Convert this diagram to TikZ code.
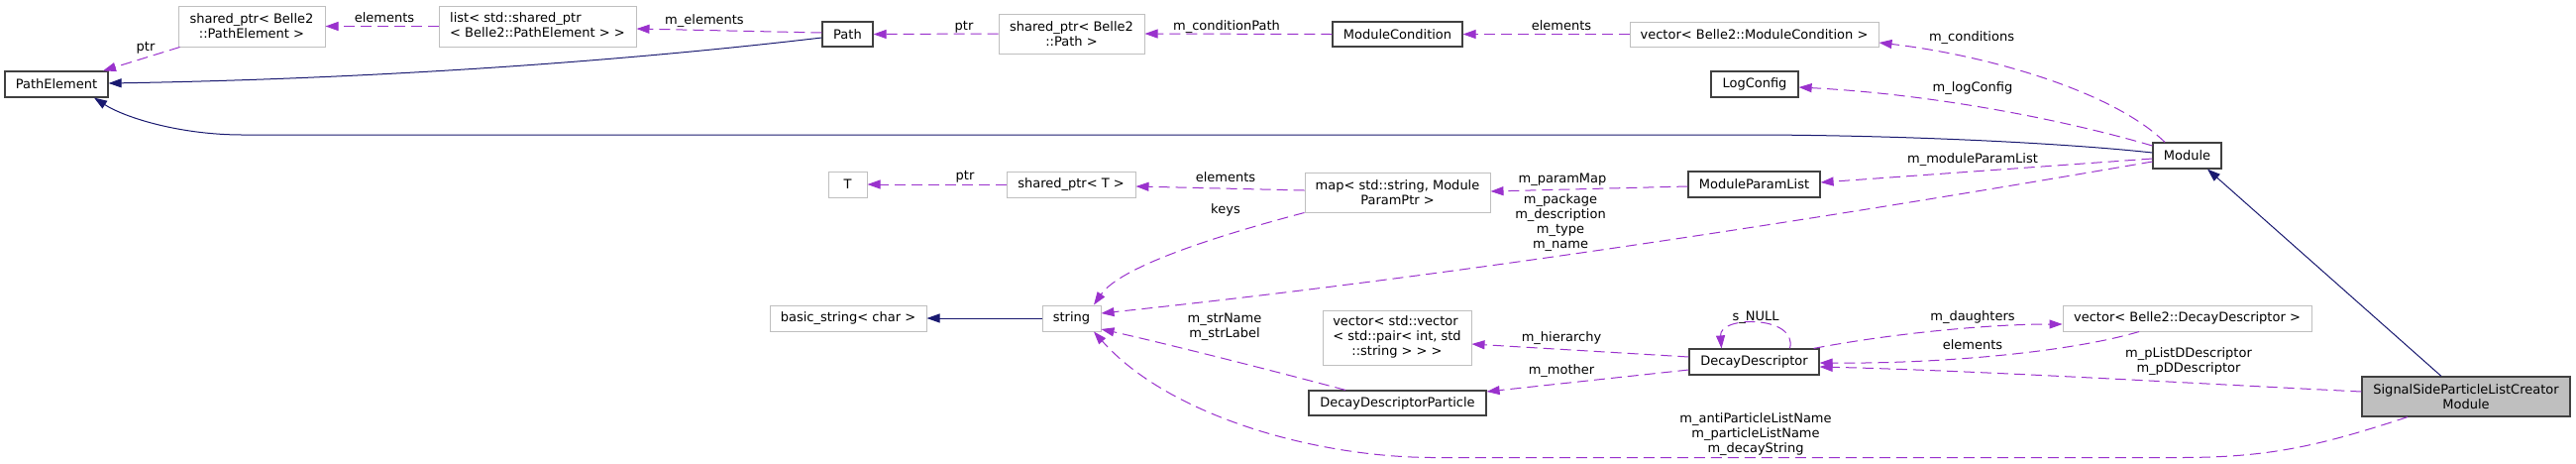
\documentclass[tikz,border=0pt]{standalone}
\usepackage{fontspec}
\setmainfont{DejaVu Sans}
\usetikzlibrary{arrows.meta}
\definecolor{usecol}{HTML}{9A32CD}
\definecolor{inhcol}{HTML}{191970}
\definecolor{boxdark}{HTML}{404040}
\definecolor{boxlight}{HTML}{BFBFBF}
\tikzset{
  every node/.style={font=\fontsize{13pt}{15pt}\selectfont},
  cls/.style={draw=boxdark, line width=1.2pt, inner sep=0pt, fill=white, align=center},
  ext/.style={draw=boxlight, line width=1pt, inner sep=0pt, fill=white, align=center},
  me/.style={draw=boxdark, line width=1.2pt, inner sep=0pt, fill=boxlight, align=center},
  lbl/.style={inner sep=0pt, align=center},
  uses/.style={draw=usecol, line width=1pt, dash pattern=on 11pt off 6pt, -{Triangle[length=13pt,width=9pt]}},
  inh/.style={draw=inhcol, line width=1pt, -{Triangle[length=13pt,width=9pt]}}
}
\begin{document}
\begin{tikzpicture}[x=1pt,y=-1pt]
\fill[white] (0,0) rectangle (2600,467);
\useasboundingbox (0,0) rectangle (2600,467);

% nodes
\node[cls, minimum width=104pt, minimum height=26pt] (PathElement) at (57,85) {PathElement};
\node[ext, minimum width=148pt, minimum height=41pt] (spPE) at (254,26.5) {shared\_ptr< Belle2\\::PathElement >};
\node[ext, minimum width=199pt, minimum height=41pt] (listPE) at (542.5,26.5) {\begin{tabular}{@{}l@{}}list< std::shared\_ptr\\\multicolumn{1}{@{}c@{}}{< Belle2::PathElement > >}\end{tabular}};
\node[cls, minimum width=51pt, minimum height=25pt] (Path) at (855.5,34.5) {Path};
\node[ext, minimum width=147pt, minimum height=40pt] (spPath) at (1081.5,34) {shared\_ptr< Belle2\\::Path >};
\node[cls, minimum width=131pt, minimum height=25pt] (ModuleCondition) at (1410.5,34.5) {ModuleCondition};
\node[ext, minimum width=251pt, minimum height=25pt] (vecMC) at (1770.5,34.5) {vector< Belle2::ModuleCondition >};
\node[cls, minimum width=88pt, minimum height=26pt] (LogConfig) at (1771,85) {LogConfig};
\node[cls, minimum width=69pt, minimum height=26pt] (Module) at (2207.5,157) {Module};
\node[cls, minimum width=133pt, minimum height=26pt] (ModuleParamList) at (1770.5,186) {ModuleParamList};
\node[ext, minimum width=187pt, minimum height=40pt] (map) at (1410.5,194) {map< std::string, Module\\ParamPtr >};
\node[ext, minimum width=130pt, minimum height=26pt] (spT) at (1081,186) {shared\_ptr< T >};
\node[ext, minimum width=39pt, minimum height=26pt] (T) at (855.5,186) {T};
\node[ext, minimum width=158pt, minimum height=26pt] (basicstr) at (856,321) {basic\_string< char >};
\node[ext, minimum width=59pt, minimum height=26pt] (string) at (1081.5,321) {string};
\node[ext, minimum width=150pt, minimum height=55pt] (vecvec) at (1410,340.5) {\begin{tabular}{@{}l@{}}vector< std::vector\\< std::pair< int, std\\\multicolumn{1}{@{}c@{}}{::string > > >}\end{tabular}};
\node[cls, minimum width=131pt, minimum height=26pt] (DD) at (1770.5,365) {DecayDescriptor};
\node[cls, minimum width=179pt, minimum height=25pt] (DDP) at (1410.5,406.5) {DecayDescriptorParticle};
\node[ext, minimum width=251pt, minimum height=26pt] (vecDD) at (2207.5,321) {vector< Belle2::DecayDescriptor >};
\node[me, minimum width=210pt, minimum height=40pt] (SignalSide) at (2489,400) {SignalSideParticleListCreator\\Module};

% inheritance
\draw[inh] ([yshift=-3.5pt]Path.west) .. controls (600,65) and (350,80) .. ([yshift=1pt]PathElement.east);
\draw[inh] ([yshift=3pt]Module.west) .. controls (2100,146) and (1950,137) .. (1780,136) -- (245,136) .. controls (180,136) and (125,118) .. ([xshift=38pt]PathElement.south);
\draw[inh] (string.west) -- (basicstr.east);
\draw[inh] ([xshift=-25pt]SignalSide.north) -- ([xshift=20.5pt]Module.south);

% usage
\draw[uses] ([xshift=2pt]spPE.south west) -- ([xshift=47pt]PathElement.north);
\node[lbl] (lptr1) at (147,48) {ptr};
\draw[uses] (listPE.west) -- (spPE.east);
\node[lbl] (lel1) at (388,18) {elements};
\draw[uses] ([yshift=1.5pt]Path.west) -- ([yshift=-2.5pt]listPE.east);
\node[lbl] (lmel) at (711,21) {m\_elements};
\draw[uses] (spPath.west) -- (Path.east);
\node[lbl] (lptr2) at (973,27) {ptr};
\draw[uses] (ModuleCondition.west) -- (spPath.east);
\node[lbl] (lcp) at (1238,27) {m\_conditionPath};
\draw[uses] (vecMC.west) -- (ModuleCondition.east);
\node[lbl] (lel2) at (1576,26) {elements};
\draw[uses] ([xshift=-22.5pt]Module.north) .. controls (2130,90) and (2000,55) .. ([yshift=-8.5pt]vecMC.east);
\node[lbl] (lcond) at (1990,38) {m\_conditions};
\draw[uses] ([yshift=10pt]Module.west) .. controls (2080,120) and (1950,95) .. ([yshift=-3pt]LogConfig.east);
\node[lbl] (llog) at (1991,89) {m\_logConfig};
\draw[uses] ([yshift=-3pt]Module.west) -- ([yshift=2pt]ModuleParamList.east);
\node[lbl] (lmpl) at (1991,161) {m\_moduleParamList};
\draw[uses] ([yshift=-6pt]Module.west) .. controls (1900,210) and (1500,275) .. ([yshift=5pt]string.east);
\node[lbl] (lpkg) at (1575,225) {m\_package\\m\_description\\m\_type\\m\_name};
\draw[uses] ([yshift=-2pt]ModuleParamList.west) -- ([yshift=1pt]map.east);
\node[lbl] (lpm) at (1577,181) {m\_paramMap};
\draw[uses] ([yshift=2pt]map.west) -- ([yshift=-2pt]spT.east);
\node[lbl] (lel3) at (1237,179) {elements};
\draw[uses] (spT.west) -- (T.east);
\node[lbl] (lptr3) at (974,178) {ptr};
\draw[uses] (map.south west) .. controls (1220,240) and (1130,270) .. ([xshift=22.5pt]string.north);
\node[lbl] (lkeys) at (1237,212) {keys};
\draw[uses] ([xshift=-52.5pt]DDP.north) .. controls (1270,370) and (1170,345) .. ([yshift=-11pt]string.east);
\node[lbl] (lstr) at (1236,330) {m\_strName\\m\_strLabel};
\draw[uses] ([xshift=-59pt]SignalSide.south) .. controls (2340,450) and (2290,461.5) .. (2200,461.5) -- (1450,461.5) .. controls (1330,462) and (1180,420) .. ([xshift=22.5pt]string.south);
\node[lbl] (lanti) at (1772,438) {m\_antiParticleListName\\m\_particleListName\\m\_decayString};
\draw[uses] ([yshift=5pt]SignalSide.west) .. controls (2200,386) and (2000,374) .. ([yshift=-5pt]DD.east);
\node[lbl] (lpl) at (2209,364.5) {m\_pListDDescriptor\\m\_pDDescriptor};
\draw[uses] ([xshift=-6pt]DD.north east) .. controls (1900,338) and (2000,327) .. ([yshift=-6pt]vecDD.west);
\node[lbl] (ldau) at (1991,320) {m\_daughters};
\draw[uses] ([xshift=-48.5pt]vecDD.south) .. controls (2090,355) and (1960,367) .. ([yshift=-1pt]DD.east);
\node[lbl] (lel4) at (1991,348) {elements};
\draw[uses] ([xshift=36pt]DD.north) .. controls (1815,318) and (1735,318) .. ([xshift=-33pt]DD.north);
\node[lbl] (lnull) at (1772,320) {s\_NULL};
\draw[uses] ([yshift=5pt]DD.west) -- ([yshift=-6.5pt]vecvec.east);
\node[lbl] (lhier) at (1576,341) {m\_hierarchy};
\draw[uses] ([yshift=-8pt]DD.west) -- ([yshift=11.5pt]DDP.east);
\node[lbl] (lmoth) at (1576,374) {m\_mother};
\end{tikzpicture}
\end{document}
